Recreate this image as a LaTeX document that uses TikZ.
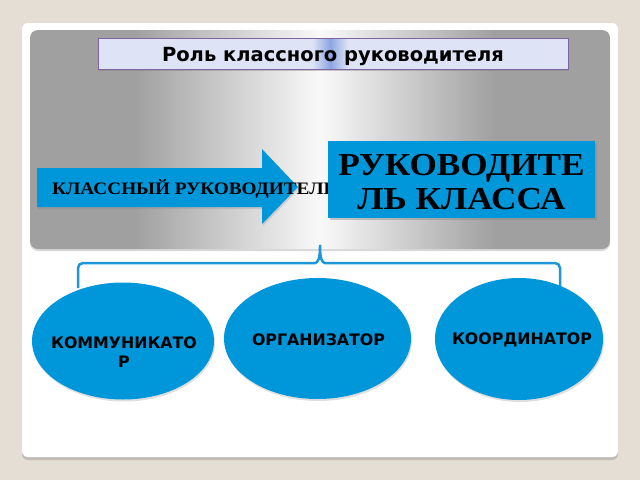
\documentclass[tikz,border=0pt]{standalone}
\usepackage{fontspec}
\newfontfamily\dejavu{DejaVu Sans}
\newfontfamily\timesbf{Liberation Serif}[FakeStretch=1.1]
\usetikzlibrary{shapes.geometric,shadows}

\definecolor{bgbeige}{RGB}{228,222,212}
\definecolor{panelgrey}{RGB}{160,160,160}
\definecolor{roleblue}{RGB}{0,150,218}
\definecolor{bracketblue}{RGB}{30,150,215}
\definecolor{titlelav}{RGB}{222,228,246}
\definecolor{titlespot}{RGB}{140,165,225}
\definecolor{titleline}{RGB}{128,100,162}

\pgfdeclarehorizontalshading{panelshade}{100bp}{color(0bp)=(panelgrey); color(34bp)=(panelgrey);
  color(50bp)=(white!94!panelgrey); color(65bp)=(panelgrey); color(100bp)=(panelgrey)}
\pgfdeclarehorizontalshading{titleshade}{100bp}{color(0bp)=(titlelav); color(47.8bp)=(titlelav);
  color(49.7bp)=(titlespot); color(51.6bp)=(titlelav); color(100bp)=(titlelav)}

\begin{document}
\begin{tikzpicture}[x=1pt, y=-1pt,
    role/.style 2 args={ellipse, fill=roleblue, minimum width=#1, minimum height=#2, inner sep=0pt,
      drop shadow={shadow xshift=1pt, shadow yshift=-2pt, opacity=0.25}},
    roletext/.style={font=\dejavu\bfseries\fontsize{15.8}{19}\selectfont, align=center, inner sep=0pt},
    titlebox/.style={shade, shading=titleshade, draw=titleline, line width=1pt, minimum width=470pt,
      minimum height=31pt, inner sep=0pt, text height=15pt, text depth=0pt,
      font=\dejavu\bfseries\fontsize{19.5}{23}\selectfont,
      drop shadow={shadow xshift=1pt, shadow yshift=-2pt, opacity=0.4}},
    bracket/.style={draw=bracketblue, line width=2.5pt, rounded corners=5pt}]
  \useasboundingbox (0,0) rectangle (640,480);
  \fill[bgbeige] (0,0) rectangle (640,480);

  \fill[white, rounded corners=6pt, drop shadow={shadow xshift=0pt, shadow yshift=-3pt, opacity=0.35}]
    (22,23) rectangle (618,457);
  \shade[shading=panelshade, rounded corners=8pt, drop shadow={shadow xshift=0pt, shadow yshift=-2pt, opacity=0.3}]
    (30,30) rectangle (610,249);

  \node[titlebox] (title) at (333,53.5) {Роль классного руководителя};

  \fill[roleblue, drop shadow={shadow xshift=1pt, shadow yshift=-2pt, opacity=0.25}]
    (37,168) -- (262,168) -- (262,149) -- (298,187) -- (262,224) -- (262,207) -- (37,207) -- cycle;
  \node[anchor=base west, inner sep=0pt, font=\timesbf\bfseries\fontsize{17.5}{20}\selectfont]
    (klruk) at (52,194) {КЛАССНЫЙ РУКОВОДИТЕЛЬ};

  \node[fill=roleblue, minimum width=267pt, minimum height=77pt, inner sep=0pt,
    drop shadow={shadow xshift=1.5pt, shadow yshift=-2pt, opacity=0.4}] (rukkl) at (461.5,179.5) {};
  \node[align=center, inner sep=0pt, font=\timesbf\bfseries\fontsize{32}{34}\selectfont]
    (rukkltxt) at (461.5,182.5) {РУКОВОДИТЕ\\ЛЬ КЛАССА};

  \coordinate (brl) at (78,288);
  \coordinate (brr) at (560,287);
  \coordinate (peak) at (320,242);
  \draw[bracket] (brl) -- (78,263) -- (310,263) .. controls (318,263) and (320,258) .. (peak)
    .. controls (320,258) and (322,263) .. (330,263) -- (560,263) -- (brr);

  \foreach \name/\x/\y/\w/\h in {komm/123/341/182/117, org/317.5/338.5/187/121, koord/519/339/168/122}
    \node[role={\w pt}{\h pt}] (\name) at (\x,\y) {};

  \foreach \name/\x/\y/\txt in {kommtxt/124/352/{КОММУНИКАТО\\Р}, orgtxt/318.5/339.5/ОРГАНИЗАТОР,
      koordtxt/522/340/КООРДИНАТОР}
    \node[roletext] (\name) at (\x,\y) {\txt};
\end{tikzpicture}
\end{document}
